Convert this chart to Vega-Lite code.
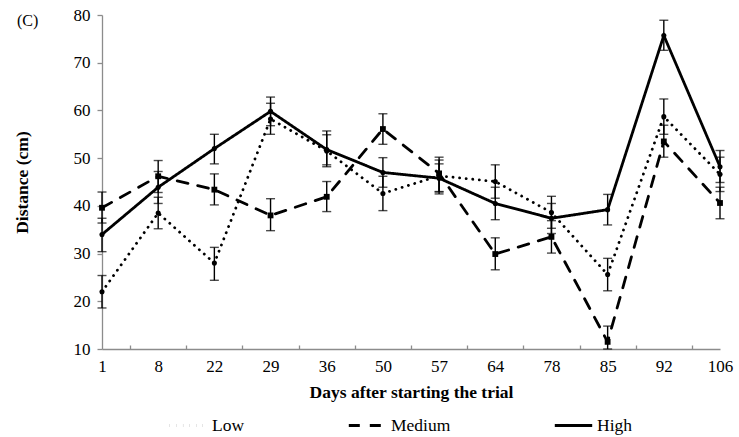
{
  "$schema": "https://vega.github.io/schema/vega-lite/v6.json",
  "width": 618,
  "height": 334,
  "autosize": {"type": "none"},
  "padding": {"left": 102, "top": 15, "right": 19, "bottom": 88},
  "background": "white",
  "title": {"text": "(C)", "anchor": "start", "frame": "group", "font": "Liberation Serif", "fontSize": 16, "fontWeight": "normal", "color": "black", "baseline": "middle", "offset": 0, "dx": -85, "dy": 31},
  "config": {
    "view": {"stroke": null},
    "font": "Liberation Serif",
    "axis": {"grid": false, "domainColor": "#8c8c8c", "tickColor": "#8c8c8c", "labelColor": "black", "titleColor": "black", "labelFont": "Liberation Serif", "titleFont": "Liberation Serif", "labelFontSize": 17, "titleFontSize": 17.5, "titleFontWeight": "bold", "domainWidth": 1.3, "tickWidth": 1.3},
    "legend": {"labelFont": "Liberation Serif"}
  },
  "data": {"values": [
    {"day": 1, "series": "Low", "value": 22.0, "lo": 18.6, "hi": 25.4},
    {"day": 8, "series": "Low", "value": 38.5, "lo": 35.2, "hi": 41.8},
    {"day": 22, "series": "Low", "value": 28.0, "lo": 24.4, "hi": 31.3},
    {"day": 29, "series": "Low", "value": 58.2, "lo": 55.0, "hi": 61.5},
    {"day": 36, "series": "Low", "value": 51.5, "lo": 48.2, "hi": 54.9},
    {"day": 50, "series": "Low", "value": 42.6, "lo": 39.0, "hi": 46.2},
    {"day": 57, "series": "Low", "value": 46.3, "lo": 42.5, "hi": 50.2},
    {"day": 64, "series": "Low", "value": 45.1, "lo": 41.6, "hi": 48.6},
    {"day": 78, "series": "Low", "value": 38.6, "lo": 35.3, "hi": 42.0},
    {"day": 85, "series": "Low", "value": 25.6, "lo": 22.2, "hi": 29.0},
    {"day": 92, "series": "Low", "value": 58.7, "lo": 55.0, "hi": 62.4},
    {"day": 106, "series": "Low", "value": 46.6, "lo": 43.0, "hi": 50.2},
    {"day": 1, "series": "Medium", "value": 39.6, "lo": 36.4, "hi": 42.9},
    {"day": 8, "series": "Medium", "value": 46.2, "lo": 42.8, "hi": 49.5},
    {"day": 22, "series": "Medium", "value": 43.4, "lo": 40.2, "hi": 46.7},
    {"day": 29, "series": "Medium", "value": 38.0, "lo": 34.8, "hi": 41.5},
    {"day": 36, "series": "Medium", "value": 41.9, "lo": 38.8, "hi": 45.1},
    {"day": 50, "series": "Medium", "value": 56.1, "lo": 52.9, "hi": 59.3},
    {"day": 57, "series": "Medium", "value": 46.8, "lo": 43.0, "hi": 49.6},
    {"day": 64, "series": "Medium", "value": 29.9, "lo": 26.6, "hi": 33.3},
    {"day": 78, "series": "Medium", "value": 33.5, "lo": 30.1, "hi": 36.9},
    {"day": 85, "series": "Medium", "value": 11.5, "lo": 10.0, "hi": 14.8},
    {"day": 92, "series": "Medium", "value": 53.5, "lo": 50.2, "hi": 56.9},
    {"day": 106, "series": "Medium", "value": 40.6, "lo": 37.3, "hi": 43.9},
    {"day": 1, "series": "High", "value": 34.0, "lo": 30.4, "hi": 37.4},
    {"day": 8, "series": "High", "value": 43.9, "lo": 40.5, "hi": 47.2},
    {"day": 22, "series": "High", "value": 52.0, "lo": 48.8, "hi": 55.0},
    {"day": 29, "series": "High", "value": 59.8, "lo": 56.8, "hi": 62.8},
    {"day": 36, "series": "High", "value": 51.8, "lo": 48.6, "hi": 55.7},
    {"day": 50, "series": "High", "value": 47.0, "lo": 43.9, "hi": 50.1},
    {"day": 57, "series": "High", "value": 45.8, "lo": 42.9, "hi": 48.8},
    {"day": 64, "series": "High", "value": 40.5, "lo": 37.1, "hi": 43.9},
    {"day": 78, "series": "High", "value": 37.4, "lo": 34.2, "hi": 40.5},
    {"day": 85, "series": "High", "value": 39.2, "lo": 36.0, "hi": 42.4},
    {"day": 92, "series": "High", "value": 75.7, "lo": 72.6, "hi": 78.9},
    {"day": 106, "series": "High", "value": 48.2, "lo": 44.9, "hi": 51.6}
  ]},
  "encoding": {
    "x": {"field": "day", "type": "ordinal", "scale": {"type": "point", "padding": 0},
      "axis": {"title": "Days after starting the trial", "labelAngle": 0, "tickSize": -4, "labelPadding": 13, "tickOffset": 28.1, "labelOffset": -28.1, "titlePadding": 9, "labelFont": "Liberation Serif", "titleFont": "Liberation Serif", "labelFontSize": 17, "titleFontSize": 17.5, "titleFontWeight": "bold"}}
  },
  "layer": [
    {
      "mark": {"type": "errorbar", "ticks": {"size": 9, "color": "black", "thickness": 1.4}, "rule": {"color": "black", "strokeWidth": 1.4}},
      "encoding": {
        "y": {"field": "lo", "type": "quantitative", "scale": {"domain": [10, 80], "nice": false}, "title": "Distance (cm)"},
        "y2": {"field": "hi"},
        "detail": {"field": "series"}
      }
    },
    {
      "mark": {"type": "line", "color": "black", "strokeWidth": 2.8, "strokeCap": "round"},
      "encoding": {
        "y": {"field": "value", "type": "quantitative", "scale": {"domain": [10, 80], "nice": false},
          "axis": {"title": "Distance (cm)", "values": [10, 20, 30, 40, 50, 60, 70, 80], "tickSize": 5, "labelPadding": 7, "titlePadding": 42, "labelFont": "Liberation Serif", "titleFont": "Liberation Serif", "labelFontSize": 17, "titleFontSize": 17.5, "titleFontWeight": "bold"}},
        "strokeDash": {"field": "series", "type": "nominal",
          "scale": {"domain": ["Low", "Medium", "High"], "range": [[0.1, 6.5], [11, 10], [1, 0]]},
          "legend": {"title": null, "orient": "none", "direction": "horizontal", "legendX": 66, "legendY": 390, "symbolType": "stroke", "symbolSize": 1400, "symbolStrokeWidth": 3, "symbolStrokeColor": "black", "labelFont": "Liberation Serif", "labelFontSize": 17.5, "labelColor": "black", "labelOffset": 3, "columnPadding": 97}
        }
      }
    },
    {
      "transform": [{"filter": "datum.series != 'Medium'"}],
      "mark": {"type": "point", "shape": "circle", "filled": true, "color": "black", "opacity": 1, "size": 26},
      "encoding": {
        "y": {"field": "value", "type": "quantitative"}
      }
    },
    {
      "transform": [{"filter": "datum.series == 'Medium'"}],
      "mark": {"type": "point", "shape": "square", "filled": true, "color": "black", "opacity": 1, "size": 34},
      "encoding": {
        "y": {"field": "value", "type": "quantitative"}
      }
    }
  ]
}
